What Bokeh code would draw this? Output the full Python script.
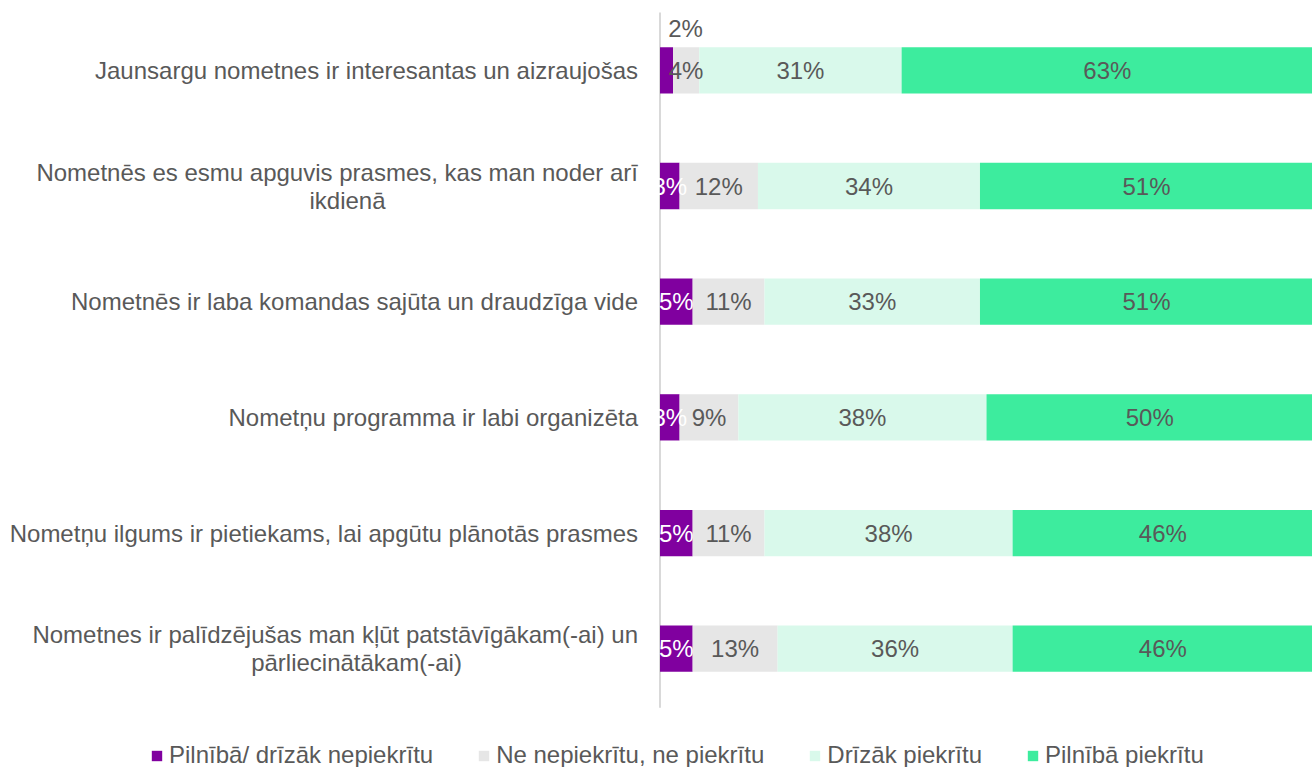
from bokeh.plotting import figure
from bokeh.models import ColumnDataSource, Range1d, Legend, LegendItem
from bokeh.core.properties import value
from bokeh.embed import file_html
from bokeh.resources import INLINE

categories = [
    "Jaunsargu nometnes ir interesantas un aizraujošas",
    "Nometnēs es esmu apguvis prasmes, kas man noder arī\nikdienā",
    "Nometnēs ir laba komandas sajūta un draudzīga vide",
    "Nometņu programma ir labi organizēta",
    "Nometņu ilgums ir pietiekams, lai apgūtu plānotās prasmes",
    "Nometnes ir palīdzējušas man kļūt patstāvīgākam(-ai) un\npārliecinātākam(-ai)",
]
series_names = [
    "Pilnībā/ drīzāk nepiekrītu",
    "Ne nepiekrītu, ne piekrītu",
    "Drīzāk piekrītu",
    "Pilnībā piekrītu",
]
disagree = [2, 3, 5, 3, 5, 5]
neutral = [4, 12, 11, 9, 11, 13]
rather_agree = [31, 34, 33, 38, 38, 36]
fully_agree = [63, 51, 51, 50, 46, 46]

colors = ["#80009F", "#E6E6E6", "#D9F9EB", "#3DEC9E"]
label_colors = ["#FFFFFF", "#595959", "#595959", "#595959"]
FONT_NAME = "Liberation Sans"
FONT = value(FONT_NAME)
TXT = "#595959"

series_values = [disagree, neutral, rather_agree, fully_agree]
keys = ["s0", "s1", "s2", "s3"]
n = len(categories)
ys = list(range(n))

data = {"y": ys}
for k, vals in zip(keys, series_values):
    data[k] = vals
src = ColumnDataSource(data)

W, H = 1312, 767
TOP = 12
PX_PER_UNIT = 6.53
ZERO_PX = 659.5      # distance from frame left to the value axis
BAND_PX = 115.67     # pixel height of one category band
FRAME_H = H - TOP
extra_bands = (FRAME_H - n * BAND_PX) / BAND_PX

p = figure(width=W, height=H, output_backend="svg", toolbar_location=None,
           x_range=Range1d(-ZERO_PX / PX_PER_UNIT, (W - ZERO_PX) / PX_PER_UNIT),
           y_range=Range1d(n - 0.5 + extra_bands, -0.5),
           x_axis_type=None, y_axis_type=None,
           min_border_left=0, min_border_right=0, min_border_top=TOP, min_border_bottom=0)
p.outline_line_color = None
p.xgrid.visible = False
p.ygrid.visible = False

# value axis line
p.segment(x0=[0], y0=[-0.52], x1=[0], y1=[n - 0.49], line_color="#D9D9D9", line_width=2)

renderers = p.hbar_stack(keys, y="y", height=0.4, source=src, color=colors, line_width=0)

# value labels
xs, yv, texts, xo, yo, tc = [], [], [], [], [], []
for i, vals in enumerate(series_values):
    for j, v in enumerate(vals):
        left = sum(series_values[m][j] for m in range(i))
        xs.append(left + v / 2)
        yv.append(ys[j])
        texts.append(f"{v}%")
        if v <= 2:
            # too narrow: label moved above the bar
            xo.append(19)
            yo.append(-42)
            tc.append(TXT)
        else:
            xo.append(0)
            yo.append(0)
            tc.append(label_colors[i])
lsrc = ColumnDataSource(dict(x=xs, y=yv, text=texts, xo=xo, yo=yo, c=tc))
p.text(x="x", y="y", text="text", x_offset="xo", y_offset="yo", text_color="c", source=lsrc,
       text_font=FONT, text_font_size=value("24px"),
       text_align="center", text_baseline="middle")

# category labels (wrapped labels: first line right-aligned, second centred under it)
second_line_center = {1: 347, 5: 356}   # page x of the centred second line
cx, cy, ctext, cxo, cyo, calign = [], [], [], [], [], []
for j, c in enumerate(categories):
    lines = c.split("\n")
    if len(lines) == 1:
        cx.append(0); cy.append(ys[j]); ctext.append(c)
        cxo.append(-22); cyo.append(0); calign.append("right")
    else:
        cx.append(0); cy.append(ys[j]); ctext.append(lines[0])
        cxo.append(-22); cyo.append(-14); calign.append("right")
        cx.append(0); cy.append(ys[j]); ctext.append(lines[1])
        cxo.append(second_line_center[j] - ZERO_PX); cyo.append(14); calign.append("center")
csrc = ColumnDataSource(dict(x=cx, y=cy, text=ctext, xo=cxo, yo=cyo, align=calign))
p.text(x="x", y="y", text="text", x_offset="xo", y_offset="yo", text_align="align", source=csrc,
       text_font=FONT, text_font_size=value("24px"), text_color=TXT,
       text_baseline="middle")

legend = Legend(items=[LegendItem(label=nm, renderers=[r]) for nm, r in zip(series_names, renderers)],
                orientation="horizontal", location=(150, -2),
                label_text_font=FONT_NAME, label_text_font_size="24px", label_text_color=TXT,
                glyph_width=13, glyph_height=13, label_standoff=6, spacing=44,
                padding=0, margin=0, border_line_color=None, background_fill_alpha=0)
p.add_layout(legend, "center")

open("out.html", "w").write(file_html(p, INLINE))
